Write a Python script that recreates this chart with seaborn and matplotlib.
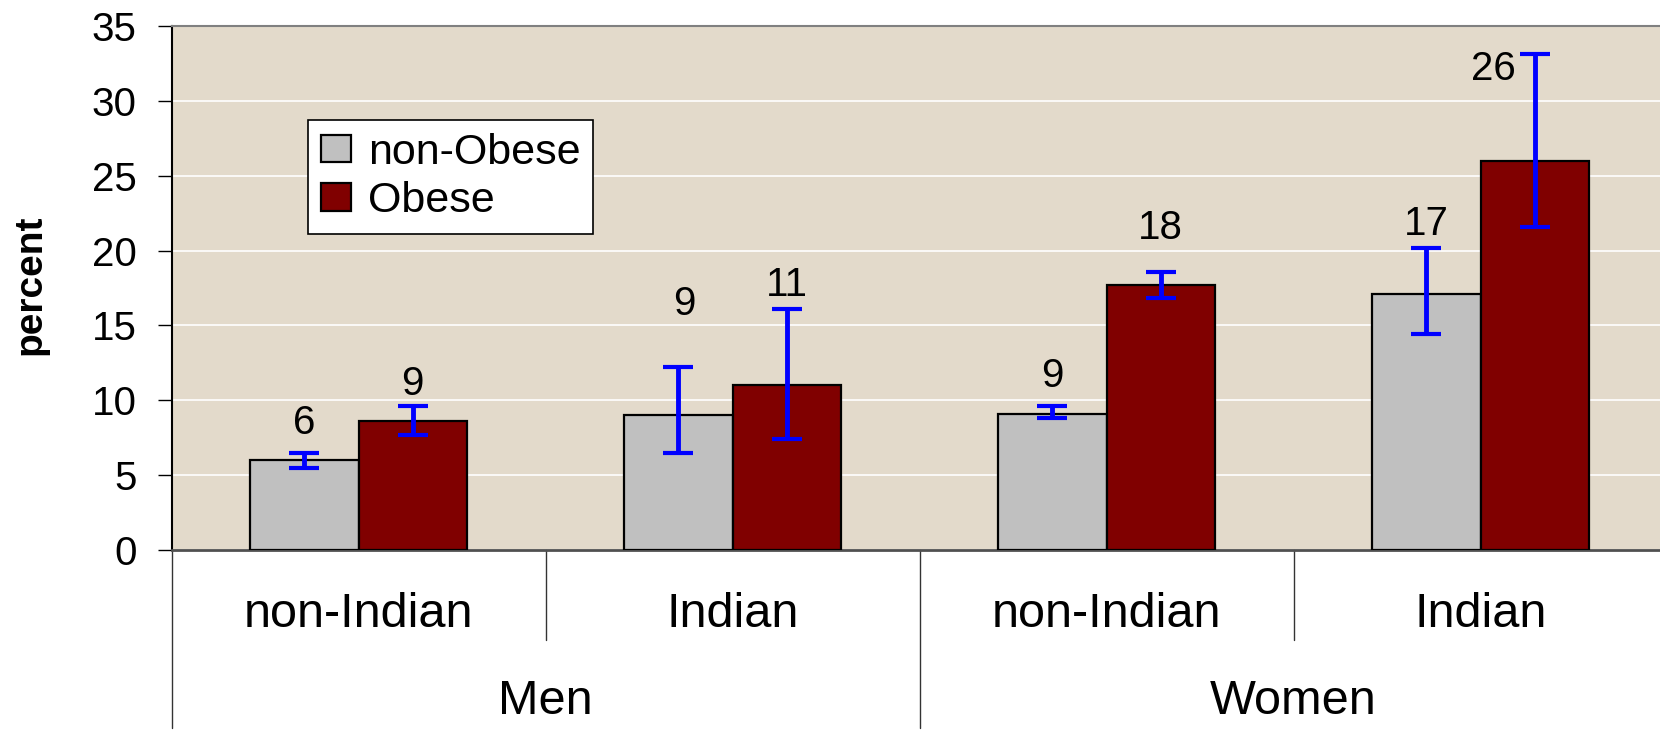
import numpy as np
import pandas as pd
import matplotlib
matplotlib.use("Agg")
import matplotlib.pyplot as plt
import seaborn as sns

# ——— Data ———
sexes = ["Men", "Women"]
ethnicities = ["non-Indian", "Indian"]
statuses = ["non-Obese", "Obese"]

non_obese = [6.0, 9.0, 9.1, 17.1]
obese = [8.6, 11.0, 17.7, 26.0]

non_obese_lo = [5.5, 6.5, 8.8, 14.4]
non_obese_hi = [6.5, 12.2, 9.6, 20.2]
obese_lo = [7.7, 7.4, 16.8, 21.6]
obese_hi = [9.6, 16.1, 18.6, 33.1]

yticks = [0, 5, 10, 15, 20, 25, 30, 35]

# ——— Layout of the value labels (data units, as placed in the original) ———
label_y = {"non-Obese": [8.45, 16.4, 11.6, 21.8],
           "Obese": [11.1, 17.7, 21.5, 32.1]}
label_dx = {"non-Obese": [0, 0.015, 0, 0],
            "Obese": [0, 0, 0, -0.11]}

# ——— Long table for seaborn ———
keys = [f"{s}|{e}" for s in sexes for e in ethnicities]
df = pd.DataFrame({
    "group": keys * 2,
    "status": [statuses[0]] * 4 + [statuses[1]] * 4,
    "value": non_obese + obese,
})

# ——— Style ———
sns.set_style("white")
plt.rcParams["font.family"] = ["Liberation Sans", "DejaVu Sans"]
plt.rcParams["text.color"] = "black"
plt.rcParams["axes.labelcolor"] = "black"
plt.rcParams["ytick.color"] = "black"

bg = "#E3DACB"
colors = ["#C0C0C0", "#800000"]

fig = plt.figure(figsize=(16.6, 7.34), dpi=100)
ax = fig.add_axes([171.5 / 1660, 184 / 734, 1496 / 1660, 524 / 734])
ax.set_facecolor(bg)

sns.barplot(data=df, x="group", y="value", hue="status", order=keys,
            hue_order=statuses, palette=colors, width=0.58,
            edgecolor="black", linewidth=1.6, errorbar=None,
            saturation=1, ax=ax, zorder=3)

# ——— Error bars and value labels ———
err = {"non-Obese": (non_obese_lo, non_obese_hi), "Obese": (obese_lo, obese_hi)}
for status, cont in zip(statuses, ax.containers):
    xs = np.array([p.get_x() + p.get_width() / 2 for p in cont])
    vals = np.array([p.get_height() for p in cont])
    lo, hi = np.array(err[status][0]), np.array(err[status][1])
    ax.errorbar(xs, vals, yerr=[vals - lo, hi - vals], fmt="none",
                ecolor="#0000FF", elinewidth=3.5, capsize=11, capthick=3,
                zorder=4)
    for x, v, ly, dx in zip(xs, vals, label_y[status], label_dx[status]):
        ax.text(x + dx, ly, f"{round(v)}", ha="center", va="center",
                fontsize=29, color="black", zorder=5)

# ——— Axes ———
ax.set_ylim(0, 35)
ax.set_xlim(-0.5, 3.5)
ax.set_yticks(yticks)
ax.yaxis.grid(True, color="white", linewidth=1.2)
ax.set_axisbelow(True)
ax.tick_params(axis="y", which="both", left=True, length=10, width=1,
               color="black", labelsize=29, pad=15)
ax.set_xticks([])
ax.set_xlabel("")
ax.set_ylabel("percent", fontsize=28, fontweight="bold")
ax.yaxis.set_label_coords(-0.0826, 0.506)

for side in ["top", "right"]:
    ax.spines[side].set_color("#808080")
    ax.spines[side].set_linewidth(1.5)
ax.spines["left"].set_color("black")
ax.spines["left"].set_linewidth(1.5)
ax.spines["bottom"].set_color("#505050")
ax.spines["bottom"].set_linewidth(2)

# ——— Two-level category axis ———
trans = ax.get_xaxis_transform()
for i, key in enumerate(keys):
    ax.text(i, -0.124, key.split("|")[1], transform=trans, ha="center",
            va="center", fontsize=35, clip_on=False)
for j, s in enumerate(sexes):
    ax.text(2 * j + 0.5, -0.29, s, transform=trans, ha="center",
            va="center", fontsize=35, clip_on=False)
for b in np.arange(-0.5, 4, 1.0):
    depth = -0.34 if (b + 0.5) % 2 == 0 else -0.172
    ax.plot([b, b], [0, depth], transform=trans, color="#333333",
            linewidth=1, clip_on=False)

# ——— Legend ———
handles, labels = ax.get_legend_handles_labels()
leg = ax.legend(handles, labels, loc="upper left",
                bbox_to_anchor=(0.091, 0.821), borderaxespad=0,
                fancybox=False, framealpha=1, edgecolor="black",
                fontsize=31, handlelength=0.7, handleheight=0.6,
                handletextpad=0.4, borderpad=0.3, labelspacing=0.2)
leg.get_frame().set_linewidth(1.2)

fig.savefig("out.png", dpi=100)
